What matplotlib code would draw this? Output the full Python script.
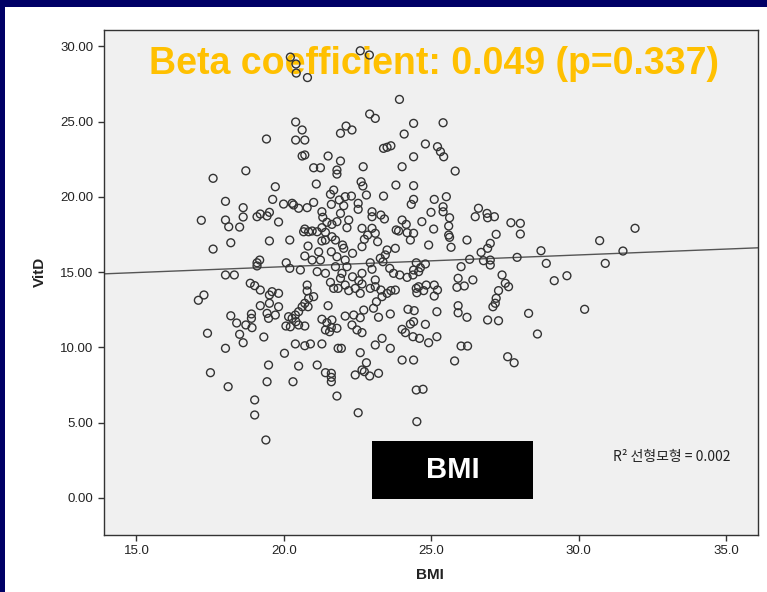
import matplotlib.pyplot as plt
from matplotlib.patches import Rectangle
import numpy as np

# 산점도 데이터 (BMI, VitD) - 그림에서 읽은 값
bmi = [
    18.71, 17.60, 18.02, 18.62, 17.20, 18.02, 18.62, 18.13, 18.50, 19.09,
    19.20, 18.20, 17.60, 19.18, 19.09, 19.09, 18.02, 18.32, 18.86, 19.01,
    19.20, 17.29, 17.10, 19.20, 18.20, 18.90, 18.90, 18.40, 18.71, 18.92,
    17.41, 18.50, 18.62, 19.32, 18.02, 17.51, 18.11, 19.01, 19.01, 19.39, 19.41,
    20.22, 20.41, 20.42, 20.80, 22.59, 22.90, 20.40, 20.62, 20.40, 20.71,
    20.62, 20.71, 21.50, 21.92, 22.11, 21.92, 22.31, 21.01, 21.24, 21.80,
    21.80, 21.10, 19.71, 19.62, 22.62, 22.69, 21.69, 21.58, 21.01, 20.79,
    20.50, 20.28, 19.99, 20.33, 19.51, 19.43, 19.82, 21.29, 21.32, 21.61,
    21.88, 22.08, 22.29, 22.52, 22.52, 22.03, 22.68, 21.92, 22.20, 22.14,
    21.80, 21.63, 21.46, 21.29, 21.13, 20.84, 20.67, 20.71, 20.96, 21.41,
    21.63, 21.29, 21.41, 21.75, 21.99, 22.03, 22.33, 22.65, 20.82, 20.71,
    21.18, 21.61, 20.20, 19.51, 20.96, 21.24, 21.80, 22.08, 20.08, 20.20,
    20.56, 21.13, 21.41, 21.75, 22.14, 21.97, 21.92, 21.58, 22.08, 22.33,
    22.54, 22.65, 21.69, 21.84, 22.20, 22.42, 22.59, 20.79, 20.79, 19.60,
    19.51, 19.82, 21.01, 20.84, 20.71, 20.82, 20.62, 20.50, 20.39, 20.28,
    20.16, 20.07, 20.22, 20.41, 20.50, 20.71, 19.51, 19.82, 19.71, 19.43,
    19.48, 21.50, 21.29, 21.46, 21.63, 21.61, 21.55, 21.41, 21.80, 22.08,
    22.37, 22.31, 22.48, 22.59, 20.39, 20.71, 20.90, 21.29, 21.84, 21.95,
    22.59, 20.02, 19.48, 20.50, 21.13, 21.41, 21.61, 21.61, 21.61, 19.43,
    20.31, 22.42, 22.65, 21.80, 22.52,
    23.92, 22.91, 23.10, 24.40, 25.40, 24.08, 24.80, 25.21, 25.31, 25.42,
    23.38, 23.50, 23.63, 24.40, 24.01, 25.81, 22.80, 23.38, 23.80, 24.40,
    24.40, 24.32, 25.10, 25.51, 25.40, 25.40, 24.99, 25.62, 25.59, 25.59,
    25.62, 25.67, 22.99, 22.99, 23.29, 23.41, 24.01, 24.15, 24.68, 25.08,
    22.65, 22.99, 22.84, 23.10, 22.73, 23.18, 23.81, 23.89, 24.18, 24.40,
    24.29, 24.91, 23.78, 23.50, 23.44, 23.27, 23.36, 22.93, 22.99, 23.59,
    23.72, 23.93, 24.18, 24.40, 24.49, 24.63, 24.80, 24.57, 24.38, 22.65,
    23.10, 23.10, 22.93, 23.29, 23.33, 23.50, 23.63, 23.78, 24.49, 24.57,
    24.74, 24.51, 24.83, 25.10, 25.21, 25.10, 23.14, 23.04, 22.71, 23.21,
    23.61, 24.21, 24.42, 24.40, 24.29, 24.01, 24.12, 24.38, 24.60, 24.80,
    25.19, 24.91, 25.19, 22.65, 23.33, 23.10, 23.61, 22.80, 22.73, 22.91,
    23.21, 24.01, 24.40, 25.79, 24.49, 24.72, 24.51, 26.01, 25.91, 25.87,
    25.91, 25.91,
    26.60, 26.49, 26.89, 26.91, 27.14, 27.70, 28.02, 28.02, 27.20, 26.21,
    27.00, 26.91, 26.69, 26.30, 26.77, 27.00, 27.00, 27.91, 28.72, 28.90,
    29.17, 26.12, 26.41, 26.21, 26.91, 27.28, 27.40, 27.51, 27.62, 27.28,
    27.20, 27.17, 27.09, 28.30, 28.60, 26.01, 26.23, 27.59, 27.81, 29.60,
    30.20, 30.71, 30.90, 31.50, 31.91,
]
vitd = [
    21.73, 21.23, 19.70, 19.28, 18.44, 18.46, 18.66, 18.01, 17.99, 18.68,
    18.86, 16.95, 16.53, 15.80, 15.62, 15.41, 14.81, 14.81, 14.26, 14.10,
    13.81, 13.48, 13.13, 12.77, 12.10, 12.22, 11.93, 11.62, 11.49, 11.31,
    10.94, 10.87, 10.31, 10.69, 9.94, 8.32, 7.39, 6.51, 5.51, 3.85, 23.84,
    29.28, 28.82, 28.22, 27.92, 29.70, 29.42, 24.97, 24.44, 23.77, 23.77,
    22.71, 22.78, 22.71, 22.38, 24.70, 24.22, 24.44, 21.93, 21.93, 21.78,
    21.51, 20.85, 20.67, 19.83, 21.00, 22.00, 20.45, 20.17, 19.63, 19.28,
    19.24, 19.57, 19.52, 19.46, 18.97, 18.73, 18.33, 19.01, 18.64, 19.50,
    19.79, 20.01, 20.05, 19.57, 19.17, 19.41, 20.72, 18.90, 18.46, 17.95,
    18.35, 18.17, 18.31, 17.95, 17.68, 17.68, 17.68, 17.86, 17.73, 17.64,
    17.35, 17.07, 17.13, 17.13, 16.80, 16.58, 16.25, 16.69, 16.73, 16.07,
    16.35, 16.35, 17.13, 17.07, 15.80, 15.80, 16.02, 15.80, 15.62, 15.25,
    15.14, 15.03, 14.92, 15.36, 15.36, 14.92, 14.59, 14.32, 14.14, 14.69,
    14.43, 14.21, 13.92, 13.92, 13.77, 13.92, 13.59, 14.14, 13.75, 13.70,
    13.48, 13.59, 13.37, 13.26, 12.93, 12.70, 12.70, 12.37, 12.15, 11.93,
    12.04, 11.42, 11.37, 11.71, 11.49, 11.42, 12.93, 12.70, 12.15, 12.26,
    11.93, 12.77, 11.87, 11.64, 11.82, 11.33, 11.04, 11.16, 11.27, 12.08,
    12.15, 11.49, 11.16, 11.97, 10.23, 10.11, 10.23, 10.23, 9.94, 9.94,
    9.65, 9.61, 8.83, 8.76, 8.83, 8.32, 8.28, 8.01, 7.72, 7.72,
    7.72, 8.17, 8.50, 6.77, 5.66,
    26.47, 25.50, 25.21, 24.88, 24.92, 24.17, 23.51, 23.33, 23.00, 22.66,
    23.22, 23.29, 23.39, 22.66, 22.00, 21.71, 20.12, 20.05, 20.78, 20.74,
    19.83, 19.50, 19.83, 20.01, 19.34, 19.01, 18.97, 18.61, 18.06, 17.46,
    17.31, 16.65, 19.01, 18.68, 18.79, 18.53, 18.46, 18.17, 18.35, 17.86,
    17.91, 17.91, 17.46, 17.58, 17.18, 17.02, 17.80, 17.73, 17.62, 17.58,
    17.13, 16.80, 16.58, 16.47, 16.14, 15.92, 15.69, 15.62, 15.19, 15.25,
    14.92, 14.81, 14.65, 15.14, 15.62, 15.29, 15.54, 15.03, 14.81, 14.92,
    14.48, 14.03, 13.92, 13.81, 13.37, 13.59, 13.77, 13.81, 13.92, 14.03,
    13.77, 13.63, 14.14, 14.14, 13.81, 13.41, 13.03, 12.60, 12.48, 12.00,
    12.22, 12.53, 12.44, 11.71, 11.55, 11.20, 10.98, 10.71, 10.60, 11.53,
    12.37, 10.31, 10.71, 10.98, 10.60, 10.16, 9.94, 8.98, 8.39, 8.10,
    8.28, 9.16, 9.16, 9.10, 7.17, 7.22, 5.07, 15.36, 14.59, 13.99,
    12.77, 12.30,
    19.24, 18.68, 18.90, 18.61, 18.68, 18.28, 18.24, 17.53, 17.51, 17.13,
    16.91, 16.58, 16.31, 15.85, 15.76, 15.80, 15.47, 15.98, 16.42, 15.58,
    14.43, 14.08, 14.48, 12.00, 11.82, 11.77, 14.81, 14.26, 14.03, 13.77,
    13.26, 12.93, 12.70, 12.26, 10.89, 10.09, 10.09, 9.38, 8.98, 14.76,
    12.53, 17.09, 15.58, 16.40, 17.91,
]

# 선형 적합선
fit_intercept = 13.80
fit_slope = 0.078

x_ticks = [15, 20, 25, 30, 35]
y_ticks = [0, 5, 10, 15, 20, 25, 30]
title_text = 'Beta coefficient: 0.049 (p=0.337)'
r2_text = 'R² 선형모형 = 0.002'

plt.rcParams['font.family'] = ['Liberation Sans', 'DejaVu Sans']

fig = plt.figure(figsize=(7.67, 5.92), dpi=100, facecolor='#000066')
# 슬라이드의 흰 판
fig.add_artist(Rectangle((5 / 767, 0), 1, 1 - 7 / 592, transform=fig.transFigure,
                         facecolor='white', edgecolor='none', zorder=-1))

ax = fig.add_axes([104 / 767, 57 / 592, 654 / 767, 505 / 592])
ax.set_facecolor('#f0f0f0')

ax.scatter(bmi, vitd, s=32, facecolors='none', edgecolors='#333333',
           linewidths=1.0, zorder=3)

ax.set_xlim(13.9, 36.08)
ax.set_ylim(-2.46, 31.08)
xs = np.array(ax.get_xlim())
ax.plot(xs, fit_intercept + fit_slope * xs, color='#555555', lw=1.0, zorder=2)

ax.set_xticks(x_ticks)
ax.set_xticklabels(['%.1f' % t for t in x_ticks])
ax.set_yticks(y_ticks)
ax.set_yticklabels(['%.2f' % t for t in y_ticks])
ax.tick_params(direction='out', length=4, width=1.0, color='#333333',
               labelsize=9.5, labelcolor='#222222', top=False, right=False)
for sp in ax.spines.values():
    sp.set_color('#333333')
    sp.set_linewidth(1.0)

ax.set_xlabel('BMI', fontsize=11, fontweight='bold', color='#222222')
ax.set_ylabel('VitD', fontsize=11, fontweight='bold', color='#222222')
ax.xaxis.set_label_coords(0.498, -0.065)
ax.yaxis.set_label_coords(-0.087, 0.521)

# 제목 (점들이 위에 그려짐)
ax.text(0.505, 0.932, title_text, transform=ax.transAxes, ha='center',
        va='center', fontsize=27, fontweight='bold', color='#FFC000', zorder=1)

# 검은 상자 BMI
ax.add_patch(Rectangle((0.4098, 0.0713), 0.2462, 0.1149, transform=ax.transAxes,
                       facecolor='black', edgecolor='none', zorder=4))
ax.text(0.533, 0.129, 'BMI', transform=ax.transAxes, ha='center', va='center',
        fontsize=21, fontweight='bold', color='white', zorder=5)

ax.text(0.778, 0.1545, r2_text, transform=ax.transAxes, ha='left', va='center',
        fontsize=10, color='#222222', family=['Noto Sans CJK KR', 'DejaVu Sans'])

fig.savefig('out.png', dpi=100, facecolor=fig.get_facecolor())
